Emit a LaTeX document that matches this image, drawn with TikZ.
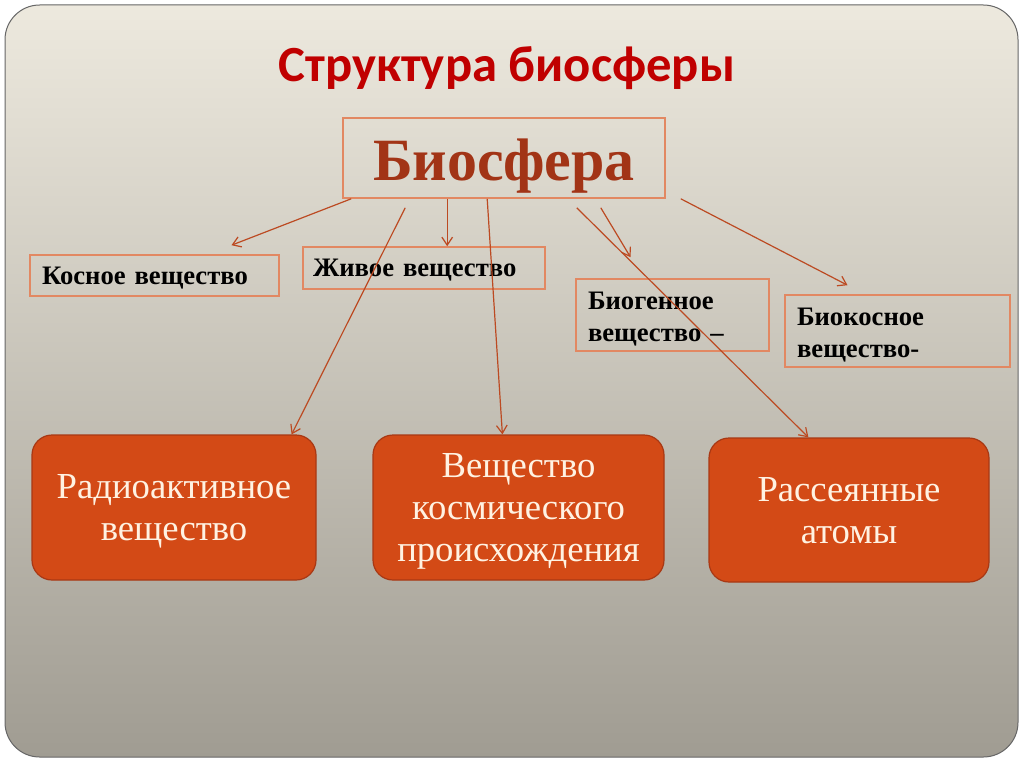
\documentclass[tikz,border=0pt]{standalone}
\usepackage{fontspec}
\setmainfont{Liberation Serif}
\newfontfamily\titlefont{Carlito}
\usetikzlibrary{arrows.meta,calc}

\definecolor{titlered}{RGB}{192,0,0}
\definecolor{biobrown}{RGB}{162,52,22}
\definecolor{boxline}{RGB}{226,136,98}
\definecolor{arrowred}{RGB}{188,74,34}
\definecolor{orfill}{RGB}{211,74,22}
\definecolor{orline}{RGB}{168,56,20}
\definecolor{cream}{RGB}{255,242,226}
\definecolor{bgtop}{RGB}{237,233,222}
\definecolor{bgmid}{RGB}{207,203,192}
\definecolor{bgbot}{RGB}{160,156,146}

\tikzset{
  kindbox/.style={draw=boxline, line width=1.2pt, align=left, anchor=center,
    inner xsep=9pt, inner ysep=0pt, text depth=0pt, font=\fontsize{20}{24}\selectfont\bfseries},
  orbox/.style={draw=orline, fill=orfill, line width=0.9pt, rounded corners=15pt,
    align=center, text=cream, text depth=0pt, font=\fontsize{27.5}{31.5}\selectfont},
  arr/.style={draw=arrowred, line width=0.9pt, -{Straight Barb[length=6pt,width=8pt]}},
}

\begin{document}
\begin{tikzpicture}[x=0.75pt,y=-0.75pt]
    \useasboundingbox (0,0) rectangle (1024,767);
    \fill[white] (0,0) rectangle (1024,767);
    \shade[top color=bgtop, middle color=bgmid, bottom color=bgbot, draw=black!60, line width=0.75pt, rounded corners=26pt] (5,5) rectangle (1018,757);
    % title and main box
    \node[anchor=base, text=titlered, font=\titlefont\fontsize{38}{40}\selectfont\bfseries] (title) at (507,82) {Структура биосферы};
    \node[draw=boxline, line width=1.2pt, minimum width=241.5pt, minimum height=60pt, text height=33pt, text depth=0pt, text=biobrown, font=\fontsize{45}{48}\selectfont\bfseries] (bio) at (504,158) {Биосфера};
    % kinds of matter
    \node[kindbox, text width=168.75pt, minimum height=30.75pt] (kos) at (154.5,275.5) {Косное вещество};
    \node[kindbox, inner xsep=7.5pt, text width=166.5pt, minimum height=31.5pt] (ziv) at (424,268) {Живое вещество};
    \node[kindbox, text depth=21pt, text width=126.75pt, minimum height=54pt] (biog) at (672.5,315) {Биогенное\\вещество –};
    \node[kindbox, text depth=21pt, text width=150.75pt, minimum height=54pt] (biok) at (897.5,331) {Биокосное\\вещество-};
    % orange boxes
    \node[orbox, minimum width=213pt, minimum height=108.75pt] (rad) at (174,507.5) {Радиоактивное\\вещество};
    \node[orbox, minimum width=218.25pt, minimum height=108.75pt] (kosm) at (518.5,507.5) {Вещество\\космического\\происхождения};
    \node[orbox, minimum width=210pt, minimum height=108pt] (ras) at (849,510) {Рассеянные\\атомы};
    % arrows
    \coordinate (kosin) at ($(kos.north)+(77,-9)$);
    \coordinate (biogin) at ($(biog.north)+(-42,-21)$);
    \coordinate (biokin) at ($(biok.north)+(-50,-9)$);
    \draw[arr] ($(bio.south west)+(9,0)$) -- (kosin);
    \draw[arr] ($(bio.south west)+(105,0)$) -- (ziv.north -| {$(bio.south west)+(105,0)$});
    \draw[arr] ($(bio.south west)+(63,9)$) -- ($(rad.north east)+(-25,0)$);
    \draw[arr] ($(bio.south west)+(145,0)$) -- ($(kosm.north west)+(130,0)$);
    \draw[arr] ($(bio.south east)+(-65,9)$) -- (biogin);
    \draw[arr] ($(bio.south east)+(-89,9)$) -- ($(ras.north west)+(100,0)$);
    \draw[arr] ($(bio.south east)+(15,0)$) -- (biokin);
\end{tikzpicture}
\end{document}
